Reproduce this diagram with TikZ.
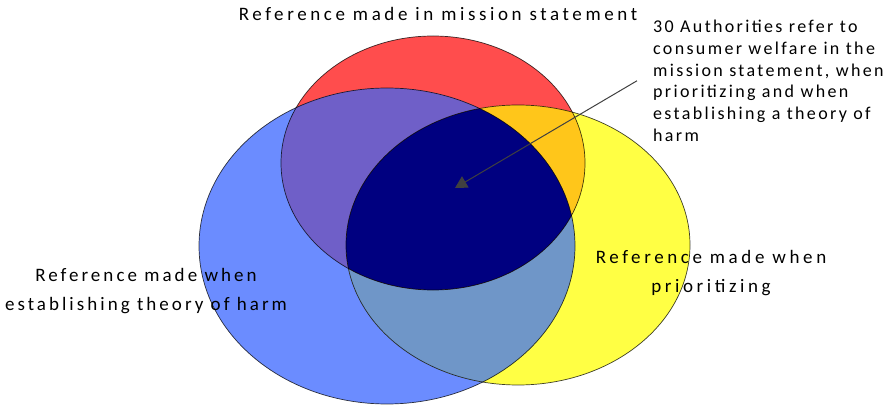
\documentclass[tikz,border=0pt]{standalone}
\usepackage{fontspec}
\setmainfont{Carlito}
\usetikzlibrary{arrows.meta}
\definecolor{cred}{RGB}{255,77,77}
\definecolor{cblue}{RGB}{107,140,255}
\definecolor{cyellow}{RGB}{255,255,68}
\definecolor{cpurple}{RGB}{111,95,200}
\definecolor{corange}{RGB}{255,198,26}
\definecolor{csteel}{RGB}{111,150,200}
\definecolor{cnavy}{RGB}{0,0,128}

\begin{document}
\begin{tikzpicture}[x=1pt, y=-1pt,
		lbl/.style={align=center, font=\fontsize{19}{29}\selectfont\addfontfeature{LetterSpace=#1}},
		lbl/.default=19,
		rim/.style={draw=black, line width=0.7pt, opacity=0.75}]
	\useasboundingbox (0,0) rectangle (889,406);
	\def\mission{(433,163) ellipse [x radius=152, y radius=127]}
	\def\theory{(387,246) ellipse [x radius=188, y radius=158]}
	\def\prio{(518,245) ellipse [x radius=172, y radius=140]}
	% plain sets
	\fill[cred] \mission;
	\fill[cblue] \theory;
	\fill[cyellow] \prio;
	% overlaps
	\begin{scope}
		\clip \theory; \fill[csteel] \prio;
	\end{scope}
	\begin{scope}
		\clip \mission; \fill[cpurple] \theory; \fill[corange] \prio;
		\clip \theory; \fill[cnavy] \prio;
	\end{scope}
	\foreach \s in {\mission,\theory,\prio}
		\draw[rim] \s;

	\node[lbl] (mis) at (438,14) {Reference made in mission statement};
	\node[lbl=16] (thy) at (146,291) {Reference made when\\establishing theory of harm};
	\node[lbl] (pri) at (711,273) {Reference made when\\prioritizing};
	\node[anchor=north west, align=left, inner sep=2pt,
		font=\fontsize{18}{21.7}\selectfont\addfontfeature{LetterSpace=13}] (note) at (651,18)
		{30 Authorities refer to\\consumer welfare in the\\mission statement, when\\prioritizing and when\\establishing a theory of\\harm};
	\coordinate (core) at (455,188);
	\draw[-{Triangle[length=12pt,width=13pt]}, line width=1pt, black!75] ([xshift=-14pt,yshift=0pt]note.west) -- (core);
\end{tikzpicture}
\end{document}
